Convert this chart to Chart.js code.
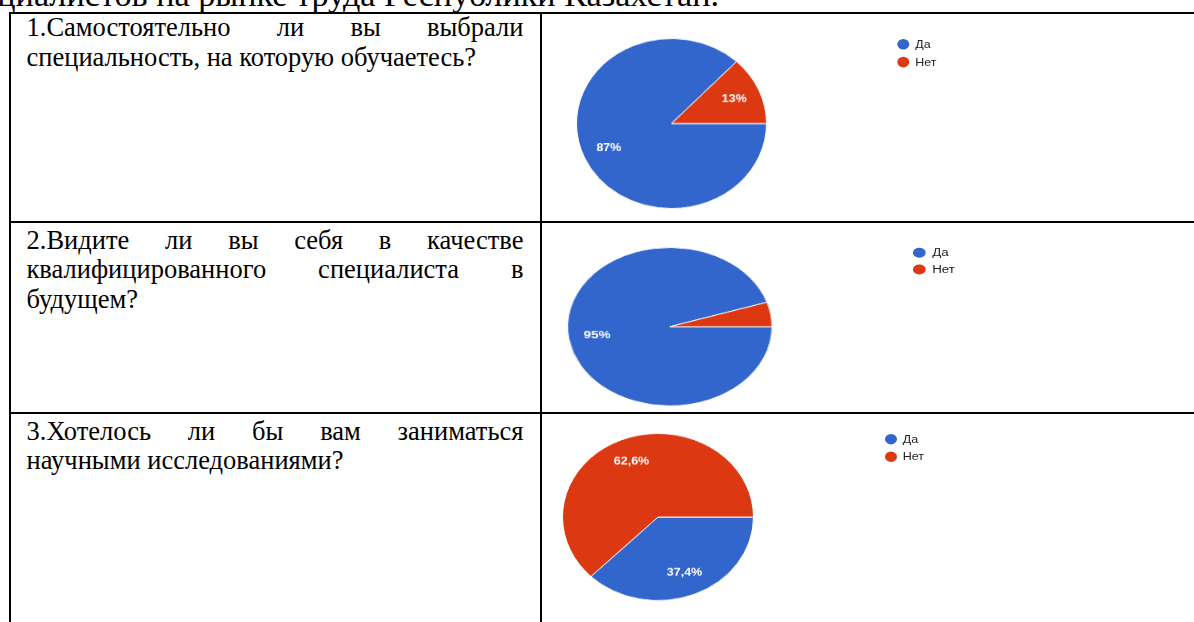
<!DOCTYPE html>
<html><head><meta charset="utf-8">
<script src="https://cdn.jsdelivr.net/npm/chart.js@4.4.1/dist/chart.umd.min.js"></script>
<style>
html,body{margin:0;padding:0;background:#fff;}
body{width:1194px;height:622px;overflow:hidden;position:relative;}
.serif{font-family:"Liberation Serif","Times New Roman",serif;font-size:26.5px;line-height:29.5px;color:#000;}
.title{position:absolute;right:475px;top:-25.5px;white-space:nowrap;font-size:34.2px;line-height:40px;}
.hl{position:absolute;left:9px;width:1200px;height:2px;background:#000;}
.vl{position:absolute;top:12px;height:620px;width:2px;background:#000;}
.q{position:absolute;left:26.5px;width:497px;}
.q div{white-space:nowrap;}
.q div.j{text-align:justify;text-align-last:justify;white-space:normal;}
.chart{position:absolute;transform-origin:0 0;width:400px;height:192px;}
.chart canvas{position:absolute;left:-2px;top:-2px;}
.legend{position:absolute;left:323px;top:0;font-family:"Liberation Sans",Arial,sans-serif;font-size:12.5px;color:#222;}
.legend .it{position:absolute;left:0;height:20px;line-height:20px;white-space:nowrap;}
.legend .dot{position:absolute;left:0;top:4px;width:12px;height:12px;border-radius:50%;}
.legend .tx{position:absolute;left:18px;top:0;}
</style>
</head><body>
<div class="serif title">специалистов на рынке труда Республики Казахстан.</div>
<div class="hl" style="top:12px"></div>
<div class="hl" style="top:221px"></div>
<div class="hl" style="top:412px"></div>
<div class="vl" style="left:9px"></div>
<div class="vl" style="left:539.5px"></div>
<div id="questions"></div>
<div id="charts"></div>
<script>
// ---- data ----
const categories = ['Да', 'Нет'];
const seriesColors = ['#3366cc', '#dc3912'];
const q1Values = [87, 13];
const q2Values = [95, 5];
const q3Values = [37.4, 62.6];
const q1Lines = ['1.Самостоятельно ли вы выбрали', 'специальность, на которую обучаетесь?'];
const q2Lines = ['2.Видите ли вы себя в качестве', 'квалифицированного специалиста в', 'будущем?'];
const q3Lines = ['3.Хотелось ли бы вам заниматься', 'научными исследованиями?'];

// ---- layout (positions only) ----
const rows = [
  {lines:q1Lines, values:q1Values, textTop:13,    box:{l:575.7, t:38.3,  w:191,   h:171}},
  {lines:q2Lines, values:q2Values, textTop:225.8, box:{l:566.7, t:246.7, w:205.6, h:159.3}},
  {lines:q3Lines, values:q3Values, textTop:416.8, box:{l:561.7, t:432.7, w:192,   h:168}}
];
const P = 192;

function fmt(v){ return String(v).replace('.', ',') + '%'; }

const sliceLabels = {
  id:'sliceLabels',
  afterDatasetsDraw(chart){
    const ctx = chart.ctx;
    const meta = chart.getDatasetMeta(0);
    const vals = chart.data.datasets[0].data;
    ctx.save();
    ctx.fillStyle = '#ffffff';
    ctx.font = 'bold 12.5px "Liberation Sans", Arial, sans-serif';
    ctx.textAlign = 'center';
    ctx.textBaseline = 'middle';
    meta.data.forEach((arc, i) => {
      if (vals[i] < 6) return;
      const p = arc.getProps(['x','y','startAngle','endAngle','outerRadius'], true);
      const a = (p.startAngle + p.endAngle) / 2;
      const r = p.outerRadius * 0.72;
      ctx.fillText(fmt(vals[i]), p.x + Math.cos(a) * r, p.y + Math.sin(a) * r);
    });
    ctx.restore();
  }
};

const qWrap = document.getElementById('questions');
const cWrap = document.getElementById('charts');
rows.forEach((row) => {
  const q = document.createElement('div');
  q.className = 'q serif';
  q.style.top = row.textTop + 'px';
  row.lines.forEach((ln, i) => {
    const d = document.createElement('div');
    d.textContent = ln;
    if (i < row.lines.length - 1) d.className = 'j';
    q.appendChild(d);
  });
  qWrap.appendChild(q);

  const c = document.createElement('div');
  c.className = 'chart';
  c.style.left = row.box.l + 'px';
  c.style.top = row.box.t + 'px';
  c.style.transform = 'scale(' + (row.box.w / P) + ',' + (row.box.h / P) + ')';
  const cv = document.createElement('canvas');
  cv.width = P + 4; cv.height = P + 4;
  cv.style.width = (P + 4) + 'px'; cv.style.height = (P + 4) + 'px';
  c.appendChild(cv);
  const lg = document.createElement('div');
  lg.className = 'legend';
  categories.forEach((cat, i) => {
    const it = document.createElement('div');
    it.className = 'it';
    it.style.top = (6.5 + 20.5 * i - 10) + 'px';
    const dot = document.createElement('span');
    dot.className = 'dot';
    dot.style.background = seriesColors[i];
    const tx = document.createElement('span');
    tx.className = 'tx';
    tx.textContent = cat;
    it.appendChild(dot); it.appendChild(tx);
    lg.appendChild(it);
  });
  c.appendChild(lg);
  cWrap.appendChild(c);

  new Chart(cv, {
    type: 'pie',
    data: {
      labels: categories,
      datasets: [{
        data: row.values,
        backgroundColor: seriesColors,
        borderColor: '#ffffff',
        borderWidth: 1
      }]
    },
    options: {
      responsive: false,
      animation: false,
      rotation: 90,
      layout: {padding: 2},
      events: [],
      plugins: {legend: {display: false}, tooltip: {enabled: false}, title: {display: false}}
    },
    plugins: [sliceLabels]
  });
});
</script>
</body></html>
